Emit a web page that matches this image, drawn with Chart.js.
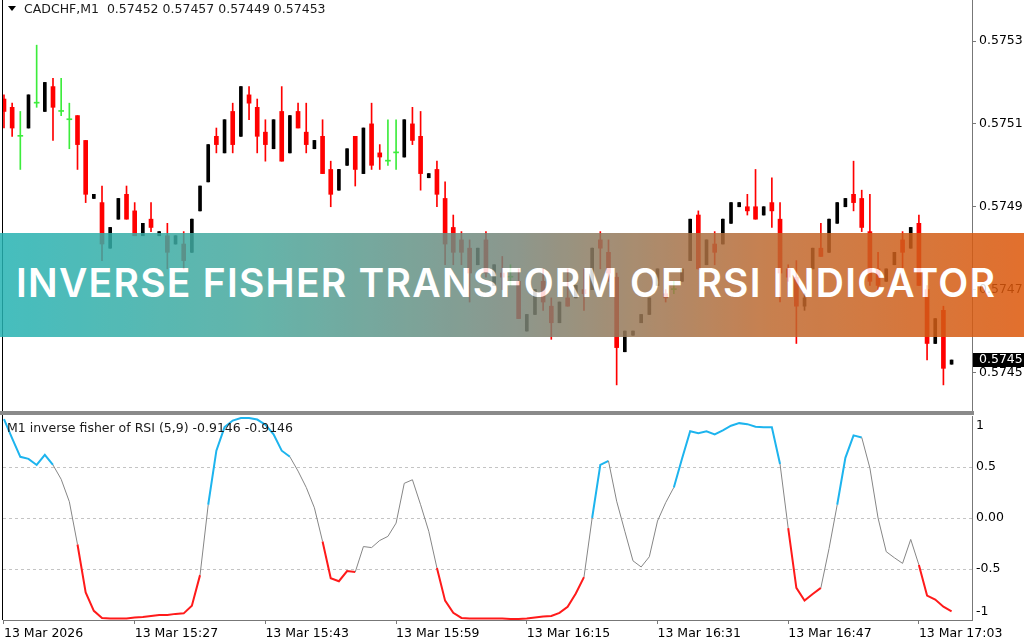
<!DOCTYPE html>
<html>
<head>
<meta charset="utf-8">
<script src="https://cdn.jsdelivr.net/npm/chart.js@4.4.1/dist/chart.umd.min.js"></script>
<style>
  html, body { margin: 0; padding: 0; background: #fff; }
  body { width: 1024px; height: 640px; position: relative; overflow: hidden; font-family: "DejaVu Sans", sans-serif; }
  #mainBox { position: absolute; left: 0; top: 0; width: 1024px; height: 411px; }
  #indBox { position: absolute; left: 0; top: 415px; width: 1024px; height: 225px; }
  .sep { position: absolute; left: 0; top: 411px; width: 974px; height: 4px; background: #8a8a8a; }
  .edge { position: absolute; left: 2px; width: 1px; background: #000; }
  .caption { position: absolute; font-size: 12.5px; line-height: 14px; color: #1a1a1a; white-space: pre; }
  .tri { position: absolute; left: 8px; top: 6px; width: 0; height: 0;
         border-left: 4px solid transparent; border-right: 4px solid transparent; border-top: 5px solid #000; }
  #banner { position: absolute; left: 0; top: 233px; width: 1024px; height: 104px; opacity: 0.85;
            background: linear-gradient(to right, #25b3b3 0%, #49a89c 25%, #78867a 50%, #be6a31 75%, #dd5709 100%); }
  #bannerText { position: absolute; left: 16px; top: 30px; color: #fff; font: 600 39px "Inter", sans-serif;
                line-height: 40px; white-space: nowrap; }
</style>
</head>
<body>
<div id="mainBox"><canvas id="main"></canvas></div>
<div id="indBox"><canvas id="ind"></canvas></div>
<div class="sep"></div>
<div class="edge" style="top:0;height:411px"></div>
<div class="edge" style="top:415px;height:205px"></div>
<div class="tri"></div>
<div class="caption" style="left:24px;top:2px">CADCHF,M1  0.57452 0.57457 0.57449 0.57453</div>
<div class="caption" style="left:7px;top:421px">M1 inverse fisher of RSI (5,9) -0.9146 -0.9146</div>
<div id="banner"><span id="bannerText">INVERSE FISHER TRANSFORM OF RSI INDICATOR</span></div>
<script>
// CADCHF M1 bars, 13 Mar 15:11 .. 17:07
const opens = [
  0.57516, 0.57514, 0.57507, 0.57509, 0.57515, 0.57513, 0.57519, 0.57513, 0.57511, 0.57512,
  0.57506, 0.57492, 0.57491, 0.57480, 0.57487, 0.57493, 0.57489, 0.57483, 0.57487, 0.57483,
  0.57483, 0.57481, 0.57481, 0.57479, 0.57489, 0.57496, 0.57507, 0.57503, 0.57513, 0.57507,
  0.57517, 0.57514, 0.57508, 0.57504, 0.57513, 0.57503, 0.57513, 0.57508, 0.57504, 0.57507,
  0.57499, 0.57494, 0.57500, 0.57507, 0.57498, 0.57510, 0.57503, 0.57501, 0.57503, 0.57502,
  0.57510, 0.57507, 0.57497, 0.57499, 0.57492, 0.57485, 0.57482, 0.57480, 0.57476, 0.57482,
  0.57471, 0.57474, 0.57473, 0.57472, 0.57460, 0.57464, 0.57472, 0.57466, 0.57462, 0.57468,
  0.57468, 0.57470, 0.57470, 0.57482, 0.57479, 0.57473, 0.57455, 0.57459, 0.57462, 0.57464,
  0.57471, 0.57469, 0.57470, 0.57472, 0.57477, 0.57488, 0.57476, 0.57481, 0.57481, 0.57486,
  0.57490, 0.57490, 0.57490, 0.57488, 0.57491, 0.57487, 0.57475, 0.57473, 0.57466, 0.57475,
  0.57480, 0.57479, 0.57486, 0.57490, 0.57493, 0.57492, 0.57484, 0.57475, 0.57472, 0.57476,
  0.57482, 0.57480, 0.57486, 0.57470, 0.57457, 0.57465, 0.57452
];
const highs = [
  0.57517, 0.57515, 0.57513, 0.57517, 0.57529, 0.57520, 0.57521, 0.57521, 0.57515, 0.57512,
  0.57506, 0.57493, 0.57495, 0.57485, 0.57492, 0.57495, 0.57491, 0.57486, 0.57491, 0.57484,
  0.57486, 0.57483, 0.57484, 0.57487, 0.57495, 0.57505, 0.57509, 0.57511, 0.57515, 0.57519,
  0.57519, 0.57516, 0.57511, 0.57511, 0.57519, 0.57512, 0.57515, 0.57515, 0.57506, 0.57511,
  0.57501, 0.57499, 0.57504, 0.57507, 0.57509, 0.57515, 0.57505, 0.57511, 0.57511, 0.57511,
  0.57514, 0.57513, 0.57498, 0.57501, 0.57496, 0.57488, 0.57484, 0.57482, 0.57480, 0.57484,
  0.57476, 0.57478, 0.57476, 0.57475, 0.57464, 0.57470, 0.57475, 0.57468, 0.57467, 0.57475,
  0.57471, 0.57475, 0.57480, 0.57484, 0.57482, 0.57474, 0.57460, 0.57460, 0.57464, 0.57468,
  0.57475, 0.57470, 0.57472, 0.57475, 0.57487, 0.57489, 0.57482, 0.57484, 0.57487, 0.57491,
  0.57491, 0.57493, 0.57499, 0.57490, 0.57497, 0.57491, 0.57476, 0.57477, 0.57469, 0.57480,
  0.57486, 0.57487, 0.57491, 0.57492, 0.57501, 0.57494, 0.57493, 0.57479, 0.57475, 0.57479,
  0.57484, 0.57485, 0.57488, 0.57471, 0.57463, 0.57466, 0.57453
];
const lows = [
  0.57509, 0.57507, 0.57499, 0.57509, 0.57514, 0.57513, 0.57506, 0.57512, 0.57504, 0.57499,
  0.57491, 0.57492, 0.57477, 0.57480, 0.57487, 0.57487, 0.57483, 0.57483, 0.57484, 0.57483,
  0.57475, 0.57481, 0.57475, 0.57479, 0.57489, 0.57496, 0.57503, 0.57503, 0.57503, 0.57507,
  0.57511, 0.57503, 0.57501, 0.57504, 0.57501, 0.57503, 0.57509, 0.57503, 0.57504, 0.57498,
  0.57490, 0.57494, 0.57500, 0.57495, 0.57498, 0.57499, 0.57499, 0.57500, 0.57499, 0.57502,
  0.57505, 0.57494, 0.57497, 0.57490, 0.57476, 0.57476, 0.57476, 0.57467, 0.57476, 0.57473,
  0.57471, 0.57470, 0.57471, 0.57463, 0.57460, 0.57464, 0.57465, 0.57458, 0.57462, 0.57466,
  0.57468, 0.57465, 0.57470, 0.57475, 0.57472, 0.57447, 0.57455, 0.57459, 0.57462, 0.57464,
  0.57471, 0.57467, 0.57469, 0.57472, 0.57477, 0.57475, 0.57476, 0.57476, 0.57481, 0.57486,
  0.57490, 0.57488, 0.57487, 0.57488, 0.57485, 0.57467, 0.57472, 0.57457, 0.57465, 0.57475,
  0.57478, 0.57479, 0.57486, 0.57490, 0.57489, 0.57484, 0.57471, 0.57470, 0.57472, 0.57476,
  0.57475, 0.57480, 0.57471, 0.57453, 0.57457, 0.57447, 0.57452
];
const closes = [
  0.57513, 0.57509, 0.57507, 0.57517, 0.57515, 0.57520, 0.57514, 0.57513, 0.57511, 0.57505,
  0.57493, 0.57493, 0.57481, 0.57485, 0.57492, 0.57487, 0.57483, 0.57486, 0.57485, 0.57484,
  0.57479, 0.57483, 0.57477, 0.57487, 0.57495, 0.57505, 0.57505, 0.57511, 0.57505, 0.57519,
  0.57515, 0.57507, 0.57505, 0.57511, 0.57501, 0.57512, 0.57509, 0.57505, 0.57506, 0.57498,
  0.57493, 0.57499, 0.57504, 0.57499, 0.57509, 0.57500, 0.57502, 0.57501, 0.57503, 0.57511,
  0.57506, 0.57498, 0.57498, 0.57493, 0.57481, 0.57479, 0.57479, 0.57474, 0.57480, 0.57474,
  0.57476, 0.57473, 0.57473, 0.57463, 0.57464, 0.57470, 0.57467, 0.57462, 0.57467, 0.57466,
  0.57471, 0.57469, 0.57480, 0.57480, 0.57474, 0.57456, 0.57460, 0.57460, 0.57464, 0.57468,
  0.57475, 0.57468, 0.57470, 0.57475, 0.57487, 0.57475, 0.57482, 0.57479, 0.57487, 0.57491,
  0.57491, 0.57489, 0.57487, 0.57490, 0.57489, 0.57474, 0.57473, 0.57466, 0.57468, 0.57480,
  0.57478, 0.57487, 0.57491, 0.57492, 0.57491, 0.57485, 0.57472, 0.57471, 0.57475, 0.57479,
  0.57479, 0.57485, 0.57471, 0.57457, 0.57463, 0.57451, 0.57453
];

// inverse fisher of RSI(5,9), one value per bar
const fisher = [
  0.97, 0.78, 0.60, 0.58, 0.52, 0.62, 0.52, 0.38, 0.16, -0.26,
  -0.73, -0.91, -0.98, -0.985, -0.985, -0.985, -0.975, -0.97, -0.96, -0.95,
  -0.95, -0.94, -0.935, -0.86, -0.56, 0.13, 0.66, 0.89, 0.955, 0.98,
  0.98, 0.965, 0.915, 0.82, 0.66, 0.60, 0.46, 0.30, 0.10, -0.23,
  -0.59, -0.62, -0.52, -0.53, -0.28, -0.29, -0.22, -0.18, -0.05, 0.34,
  0.375, 0.13, -0.13, -0.49, -0.81, -0.93, -0.98, -0.985, -0.985, -0.985,
  -0.985, -0.985, -0.99, -0.99, -0.985, -0.975, -0.965, -0.96, -0.93, -0.87,
  -0.74, -0.58, 0.0, 0.52, 0.56, 0.165, -0.13, -0.42, -0.48, -0.38,
  -0.03, 0.15, 0.30, 0.58, 0.85, 0.83, 0.85, 0.82, 0.86, 0.905,
  0.93, 0.92, 0.895, 0.89, 0.89, 0.53, -0.10, -0.685, -0.81, -0.745,
  -0.685, -0.30, 0.13, 0.59, 0.81, 0.79, 0.49, 0.0, -0.33, -0.39,
  -0.445, -0.21, -0.46, -0.76, -0.80, -0.87, -0.9146
];
// which indicator buffer the segment starting at each bar belongs to (B up, R down, N neutral)
const fisherZone = (
  'BBBBBBNNNR' + 'RRRRRRRRRR' + 'RRRRNBBBBB' + 'BBBBBNNNNR' + 'RRRNNNNNNN' +
  'NNNRRRRRRR' + 'RRRRRRRRRR' + 'RNBBNNNNNN' + 'NNBBBBBBBB' + 'BBBBBNRRRR' +
  'NNBBBNNNNN' + 'NNRRRRR'
).split('');

const timeTickBars = [0, 16, 32, 48, 64, 80, 96, 112];
const timeTickLabels = ['13 Mar 2026', '13 Mar 15:27', '13 Mar 15:43', '13 Mar 15:59',
                        '13 Mar 16:15', '13 Mar 16:31', '13 Mar 16:47', '13 Mar 17:03'];
const priceTicks = [0.5753, 0.5751, 0.5749, 0.5747, 0.5745];
const fisherTicks = [1, 0.5, 0, -0.5, -1];
const fisherTickLabels = ['1', '0.5', '0.00', '-0.5', '-1'];

// visible window
const X_MIN = -0.12, X_MAX = 118.5;
const P_MIN = 0.574407, P_MAX = 0.575399;

const RED = '#ff0000', BLACK = '#000000', GREEN = '#3cec3c';
const zoneColor = { B: '#1db4ee', R: '#ff1a1a', N: '#868686' };

Chart.defaults.font.family = '"DejaVu Sans", sans-serif';
Chart.defaults.font.size = 12.5;
Chart.defaults.color = '#000';

const kind = opens.map((o, i) => closes[i] > o ? 'up' : closes[i] < o ? 'down' : 'doji');
const kindColor = k => k === 'up' ? BLACK : k === 'down' ? RED : GREEN;

const wicks = opens.map((o, i) => ({ x: i, y: [lows[i], highs[i]] }));
const bodyOf = k => opens.map((o, i) => ({ x: i, y: kind[i] === k ? [o, closes[i]] : null }));

const priceBox = {
  id: 'priceBox',
  afterDraw(chart) {
    const s = chart.scales.y, ctx = chart.ctx;
    const last = closes[closes.length - 1];
    const y = Math.round(s.getPixelForValue(last));
    ctx.save();
    ctx.fillStyle = '#000';
    ctx.fillRect(s.left + 1, y - 7, chart.width - s.left, 14);
    ctx.fillStyle = '#fff';
    ctx.font = '12.5px "DejaVu Sans", sans-serif';
    ctx.textBaseline = 'middle';
    ctx.fillText(last.toFixed(4), s.left + 7, y);
    ctx.restore();
  }
};

new Chart(document.getElementById('main'), {
  type: 'bar',
  data: {
    datasets: [
      { data: wicks, backgroundColor: kind.map(kindColor), barThickness: 1, grouped: false },
      { data: bodyOf('down'), backgroundColor: RED, barThickness: 4, grouped: false, minBarLength: 1 },
      { data: bodyOf('up'), backgroundColor: BLACK, barThickness: 3, grouped: false, minBarLength: 2 },
      { data: bodyOf('doji'), backgroundColor: GREEN, barThickness: 5, grouped: false, minBarLength: 1 }
    ]
  },
  options: {
    animation: false,
    responsive: true,
    maintainAspectRatio: false,
    layout: { padding: { left: 3, top: 0, right: 0, bottom: 0 } },
    plugins: { legend: { display: false }, tooltip: { enabled: false } },
    scales: {
      x: { type: 'linear', display: false, min: X_MIN, max: X_MAX, offset: false, grid: { offset: false } },
      y: {
        type: 'linear', position: 'right', min: P_MIN, max: P_MAX, beginAtZero: false,
        afterBuildTicks: s => { s.ticks = priceTicks.map(v => ({ value: v })); },
        afterFit: s => { s.width = 52; s.paddingTop = 0; s.paddingBottom = 0; },
        grid: { drawOnChartArea: false, tickLength: 4, color: '#777' },
        border: { color: '#777', width: 1 },
        ticks: { padding: 3, callback: v => v.toFixed(4) }
      }
    }
  },
  plugins: [priceBox]
});

const fisherLabels = {
  id: 'fisherLabels',
  afterDraw(chart) {
    const s = chart.scales.y, ctx = chart.ctx;
    ctx.save();
    ctx.fillStyle = '#000';
    ctx.font = '12.5px "DejaVu Sans", sans-serif';
    ctx.textBaseline = 'middle';
    fisherTicks.forEach((v, k) => {
      let y = s.getPixelForValue(v);
      y = Math.min(Math.max(y, s.top + 10), s.bottom - 8);
      ctx.fillText(fisherTickLabels[k], s.left + 4, y);
    });
    ctx.restore();
  }
};

new Chart(document.getElementById('ind'), {
  type: 'line',
  data: {
    datasets: [{
      data: fisher.map((v, i) => ({ x: i, y: v })),
      borderColor: zoneColor.N,
      borderWidth: 1,
      pointRadius: 0,
      tension: 0,
      segment: {
        borderColor: c => zoneColor[fisherZone[c.p0DataIndex]],
        borderWidth: c => fisherZone[c.p0DataIndex] === 'N' ? 1 : 2
      }
    }]
  },
  options: {
    animation: false,
    responsive: true,
    maintainAspectRatio: false,
    layout: { padding: { left: 3, top: 1, right: 0, bottom: 0 } },
    plugins: { legend: { display: false }, tooltip: { enabled: false } },
    scales: {
      x: {
        type: 'linear', position: 'bottom', min: X_MIN, max: X_MAX, offset: false,
        afterBuildTicks: s => { s.ticks = timeTickBars.map(v => ({ value: v })); },
        afterFit: s => { s.height = 20; s.paddingLeft = 0; s.paddingRight = 0; },
        grid: { drawOnChartArea: false, tickLength: 4, color: '#777' },
        border: { color: '#777', width: 1 },
        ticks: { align: 'start', padding: 2, maxRotation: 0, autoSkip: false,
                 callback: v => timeTickLabels[timeTickBars.indexOf(v)] }
      },
      y: {
        type: 'linear', position: 'right', min: -1, max: 1,
        afterBuildTicks: s => { s.ticks = fisherTicks.map(v => ({ value: v })); },
        afterFit: s => { s.width = 52; s.paddingTop = 0; s.paddingBottom = 0; },
        grid: { drawTicks: false, color: c => [0.5, 0, -0.5].includes(c.tick && c.tick.value) ? '#c4c4c4' : 'transparent' },
        border: { color: '#777', width: 1, dash: [3, 3] },
        ticks: { display: false }
      }
    }
  },
  plugins: [fisherLabels]
});

// stretch the banner title to the width it has in the picture
(function () {
  const el = document.getElementById('bannerText');
  const c = document.createElement('canvas').getContext('2d');
  c.font = '600 39px "Inter"';
  const txt = el.textContent;
  const w = c.measureText(txt).width;
  el.style.letterSpacing = ((979 - w) / (txt.length - 1)) + 'px';
})();
</script>
</body>
</html>
